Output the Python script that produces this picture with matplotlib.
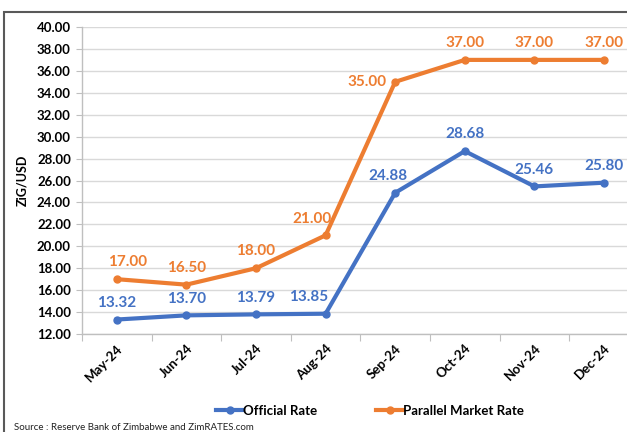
import matplotlib
matplotlib.use("Agg")
import matplotlib.pyplot as plt
from matplotlib.patches import Rectangle

months = ["May-24", "Jun-24", "Jul-24", "Aug-24", "Sep-24", "Oct-24", "Nov-24", "Dec-24"]
official = [13.32, 13.70, 13.79, 13.85, 24.88, 28.68, 25.46, 25.80]
parallel = [17.00, 16.50, 18.00, 21.00, 35.00, 37.00, 37.00, 37.00]
yticks = [12 + 2 * i for i in range(15)]

BLUE = "#4472C4"
ORANGE = "#ED7D31"
FONT = ["Lato", "DejaVu Sans"]
plt.rcParams["font.family"] = FONT

W, H = 627, 432
fig = plt.figure(figsize=(W / 100, H / 100), dpi=100)

# outer frame
fig.patches.append(Rectangle((4 / W, -0.1), 2.0, (H - 12) / H + 0.1, transform=fig.transFigure,
                             fill=False, edgecolor="#595959", linewidth=1.5))

left = 82 / W
width = 8 * 69.6 / W
bottom = (H - 334) / H
top = (H - 27) / H
ax = fig.add_axes([left, bottom, width, top - bottom])

x = list(range(len(months)))
ax.plot(x, official, color=BLUE, linewidth=3, marker="o", markersize=5, label="Official Rate", zorder=3)
ax.plot(x, parallel, color=ORANGE, linewidth=3, marker="o", markersize=5, label="Parallel Market Rate", zorder=3)

ax.set_xlim(-0.5, 7.5)
ax.set_ylim(12, 40)
ax.set_yticks(yticks)
ax.set_yticklabels([f"{v:.2f}" for v in yticks], fontsize=9.5, fontweight="bold")
ax.set_xticks([i - 0.5 for i in range(9)], minor=False)
ax.set_xticklabels([""] * 9)
ax.set_xticks(x, minor=True)
ax.set_xticklabels(months, minor=True, rotation=45, ha="right", rotation_mode="anchor",
                   fontsize=9.5, fontweight="bold")
ax.tick_params(axis="x", which="minor", length=0, pad=6)
ax.tick_params(axis="x", which="major", length=5, color="#BFBFBF", direction="out")
ax.tick_params(axis="y", length=4, color="#BFBFBF", pad=4)
ax.grid(axis="y", color="#D9D9D9", linewidth=1)
ax.set_axisbelow(True)
for s in ["top", "right"]:
    ax.spines[s].set_visible(False)
for s in ["left", "bottom"]:
    ax.spines[s].set_color("#BFBFBF")
    ax.spines[s].set_linewidth(1)

ax.set_ylabel("ZiG/USD", fontsize=9, fontweight="bold", labelpad=6)

# data labels
off_dx = [0, 0, 0, -0.25, -0.1, 0, 0, 0]
par_dx = [0.15, 0, 0, -0.2, 0, 0, 0, 0]
for i, v in enumerate(official):
    ax.annotate(f"{v:.2f}", (i + off_dx[i], v), xytext=(0, 7), textcoords="offset points",
                ha="center", va="bottom", color=BLUE, fontsize=11, fontweight="bold")
for i, v in enumerate(parallel):
    if i == 4:
        ax.annotate(f"{v:.2f}", (i, v), xytext=(-6, 0), textcoords="offset points",
                    ha="right", va="center", color=ORANGE, fontsize=11, fontweight="bold")
    else:
        ax.annotate(f"{v:.2f}", (i + par_dx[i], v), xytext=(0, 7), textcoords="offset points",
                    ha="center", va="bottom", color=ORANGE, fontsize=11, fontweight="bold")

leg = fig.legend(loc="center", bbox_to_anchor=(370 / W, (H - 411) / H), ncol=2, frameon=False,
                 prop={"family": FONT, "weight": "bold", "size": 9.5}, handlelength=2.0,
                 columnspacing=4.5, handletextpad=0.0)

fig.text(14 / W, (H - 428) / H, "Source : Reserve Bank of Zimbabwe and ZimRATES.com",
         fontsize=7, va="center", ha="left", color="#222222")

fig.savefig("out.png", dpi=100)
